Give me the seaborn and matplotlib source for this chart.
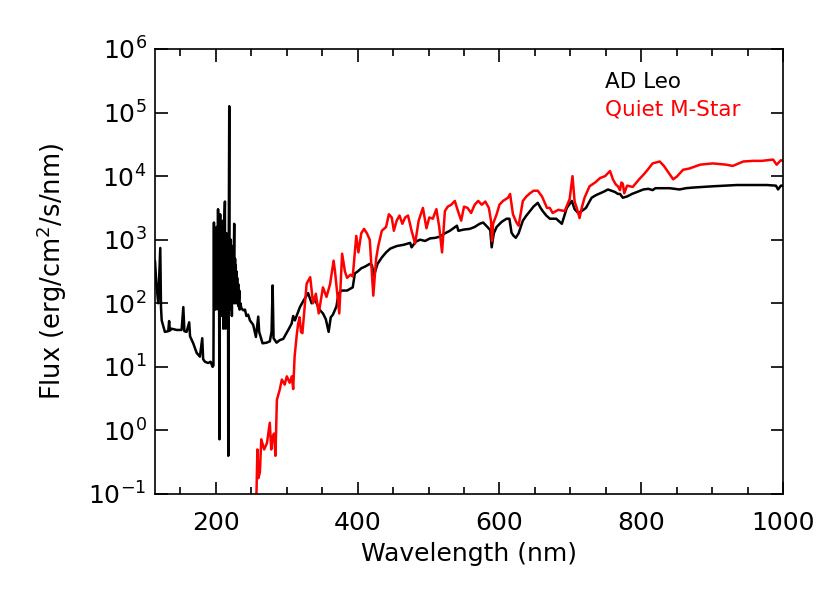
import numpy as np
import pandas as pd
import matplotlib
matplotlib.use('Agg')
import matplotlib.pyplot as plt
import seaborn as sns
from matplotlib.ticker import MultipleLocator, LogLocator, NullLocator

# AD Leo spectrum (wavelength in nm, log10 flux in erg/cm2/s/nm)
adleo_wave = [
    114, 116, 118.6, 120, 121.5, 122.5, 123.5, 128, 132.7, 134, 135, 137.5,
    144.6, 151.6, 154, 155.5, 158.6, 162.3, 163.5, 168, 172.8, 177.4, 180.7,
    182, 184.5, 189, 192.5, 195.3, 196.5,
    197.2, 197.6, 198, 198.5, 199, 199.5, 200, 200.5, 201, 201.5, 202, 202.5,
    203, 203.5, 204, 204.5, 205, 205.5, 206, 206.5, 207, 207.5, 208, 208.5,
    209, 209.5, 210, 210.5, 211, 211.5, 212, 212.7, 213, 213.5, 214, 214.5,
    215, 215.5, 216, 216.5, 217, 217.4, 218, 218.8, 219.3, 219.8, 220.3,
    221, 221.5, 222, 222.5, 223, 223.5, 224, 224.5, 225, 225.8, 226.3, 227,
    227.5, 228, 228.5, 229, 229.5, 230, 230.5, 231.5, 232, 233, 233.5, 234.5,
    236, 238.5, 241, 243, 245.5, 248, 252.6, 256.4, 259.7, 261, 265.8, 271.5,
    276, 278.5, 280, 281.3, 285.6, 290, 295, 302, 306.8, 309, 311.4, 318.5,
    324, 330, 335, 340, 346, 351, 355, 359, 362, 365, 370, 373, 377, 385,
    393, 396, 400, 405, 411, 417, 420, 423, 428, 434, 440, 446, 455, 465,
    474, 476, 482, 488, 495, 502, 510, 516, 523, 530, 535, 540, 542, 550,
    558, 565, 572, 577, 583, 587, 589, 592, 596, 603, 610, 614, 617, 620,
    623, 627, 633, 638, 643, 648, 654, 658, 661, 666, 671, 680, 688, 695,
    702, 706, 711, 716, 722, 730, 736, 742, 748, 753, 758, 763, 767, 770,
    774, 780, 787, 794, 803, 810, 816, 820, 830, 840, 847, 854, 863, 873,
    887, 901, 918, 935, 955, 977, 990, 993, 997, 1000,
]
adleo_logflux = [
    2.67, 2.31, 2.0, 2.4, 2.87, 1.94, 1.73, 1.55, 1.56, 1.72, 1.57, 1.6,
    1.58, 1.58, 1.94, 1.56, 1.55, 1.7, 1.48, 1.37, 1.22, 1.16, 1.45,
    1.12, 1.08, 1.06, 1.08, 1.0, 1.02,
    3.27, 1.95, 3.0, 2.0, 2.9, 1.9, 3.1, 2.1, 3.2, 2.0, 3.0, 2.2,
    3.48, 1.9, 3.1, 2.1, -0.14, 2.4, 3.4, 1.9, 3.1, 2.0, 3.0, 1.8,
    3.2, 2.1, 3.3, 1.6, 2.9, 2.0, 3.3, 3.6, 2.0, 1.6, 3.0, 2.2,
    3.1, 1.9, 2.9, 2.0, 3.0, -0.4, 2.6, 5.1, 2.0, 2.9, 1.9,
    3.0, 2.2, 2.8, 1.8, 2.9, 2.0, 2.8, 2.1, 2.5, 3.25, 2.0, 2.7,
    2.1, 2.6, 2.0, 2.5, 2.1, 2.4, 2.0, 2.3, 1.95, 2.2, 1.9, 2.0,
    1.92, 1.89, 1.9, 1.8, 1.82, 1.73, 1.66, 1.47, 1.79, 1.55, 1.37, 1.38,
    1.4, 1.55, 2.28, 1.45, 1.38, 1.42, 1.44, 1.58, 1.68, 1.8, 1.73, 1.94,
    2.05, 2.16, 2.0, 2.05, 1.9, 1.84, 1.75, 1.55, 1.78, 1.82, 1.95, 2.15, 2.2, 2.2,
    2.25, 2.47, 2.5, 2.55, 2.58, 2.62, 2.6, 2.44, 2.62, 2.72, 2.8, 2.86, 2.9, 2.92,
    2.95, 2.88, 2.97, 3.0, 2.98, 3.02, 3.03, 3.05, 3.1, 3.14, 3.18, 3.22, 3.14, 3.16,
    3.17, 3.2, 3.25, 3.27, 3.2, 3.15, 2.88, 3.1, 3.2, 3.28, 3.33, 3.33, 3.11, 3.06,
    3.03, 3.1, 3.3, 3.38, 3.45, 3.52, 3.58, 3.5, 3.45, 3.38, 3.33, 3.33, 3.25, 3.5,
    3.61, 3.48, 3.42, 3.45, 3.5, 3.66, 3.7, 3.73, 3.76, 3.79, 3.77, 3.75, 3.72, 3.72,
    3.66, 3.68, 3.72, 3.75, 3.79, 3.8, 3.78, 3.81, 3.81, 3.81, 3.8, 3.79, 3.81, 3.82,
    3.83, 3.84, 3.85, 3.86, 3.86, 3.86, 3.85, 3.79, 3.85, 3.85,
]

# Quiet M-star spectrum
quiet_wave = [
    257, 258.5, 260, 262, 264, 268, 272, 276, 278, 280, 282, 284, 286, 290,
    293, 297, 300, 304, 307, 309, 311, 314, 316, 318, 320, 322, 328, 333,
    337, 341, 345, 351, 356, 361, 366, 368, 374, 378, 382, 385, 390, 393,
    398, 401, 405, 409, 413, 417, 422, 426, 429, 434, 440, 444, 448, 451,
    455, 459, 463, 467, 471, 476, 481, 486, 492, 497, 501, 506, 511, 515,
    519, 523, 527, 532, 537, 540, 546, 550, 555, 560, 565, 570, 575, 580,
    585, 588, 589.5, 591, 596, 600, 605, 612, 615, 619, 624, 627, 633, 638,
    643, 648, 654, 660, 667, 671, 675, 683, 692, 699, 703, 706, 709, 713,
    716, 720, 727, 735, 742, 749, 756, 760, 764, 767, 770, 772, 774, 776,
    780, 788, 797, 803, 809, 816, 826, 832, 840, 845, 850, 859, 868, 883,
    901, 910, 920, 929, 944, 958, 970, 986, 991, 997, 1000,
]
quiet_logflux = [
    -1.1, -0.3, -0.75, -0.66, -0.14, -0.3, -0.2, 0.12, -0.3, -0.1, -0.05, -0.4, 0.48, 0.64,
    0.8, 0.72, 0.85, 0.75, 0.85, 0.65, 1.16, 1.5, 1.68, 1.78, 1.55, 1.53, 2.31, 2.41,
    2.0, 2.15, 1.84, 2.25, 2.1, 2.3, 2.67, 2.5, 1.84, 2.78, 2.5, 2.4, 2.45, 2.42,
    3.06, 2.8, 3.1, 3.17, 3.1, 3.0, 2.12, 2.7, 2.9, 3.14, 3.2, 3.4, 3.35, 3.14,
    3.3, 3.38, 3.25, 3.35, 3.38, 3.14, 2.94, 3.3, 3.5, 3.18, 3.35, 3.33, 3.48, 3.2,
    2.8, 3.45, 3.52, 3.55, 3.61, 3.5, 3.3, 3.52, 3.5, 3.42, 3.55, 3.61, 3.55, 3.6,
    3.5, 3.3, 2.98, 3.25, 3.4, 3.55, 3.61, 3.66, 3.72, 3.4, 3.27, 3.22, 3.61, 3.68,
    3.73, 3.77, 3.77, 3.68, 3.5, 3.5, 3.42, 3.47, 3.45, 3.64, 4.0, 3.6, 3.5, 3.34,
    3.5, 3.66, 3.84, 3.9, 3.97, 4.0, 4.08, 3.95, 3.87, 3.84, 3.78, 3.9, 3.88, 3.73,
    3.85, 3.83, 3.95, 4.02, 4.1, 4.2, 4.23, 4.16, 4.03, 3.95, 3.99, 4.1, 4.12, 4.18,
    4.2, 4.19, 4.18, 4.16, 4.23, 4.24, 4.24, 4.26, 4.18, 4.25, 4.24,
]

series_names = ['AD Leo', 'Quiet M-Star']
series_colors = ['black', 'red']

adleo = pd.DataFrame({'wave': adleo_wave, 'flux': np.power(10.0, adleo_logflux)})
quiet = pd.DataFrame({'wave': quiet_wave, 'flux': np.power(10.0, quiet_logflux)})

sns.set_style('ticks')
plt.rcParams['font.family'] = ['DejaVu Sans']
plt.rcParams['text.color'] = 'black'
plt.rcParams['axes.labelcolor'] = 'black'

fig = plt.figure(figsize=(8.3, 5.93), dpi=100)
ax = fig.add_axes([0.1867, 0.167, 0.7567, 0.7504])

sns.lineplot(data=adleo, x='wave', y='flux', ax=ax, color=series_colors[0],
             lw=1.8, sort=False, estimator=None)
sns.lineplot(data=quiet, x='wave', y='flux', ax=ax, color=series_colors[1],
             lw=1.8, sort=False, estimator=None)

ax.set_yscale('log')
ax.set_xlim(114, 1000)
ax.set_ylim(0.1, 1e6)

ax.xaxis.set_major_locator(MultipleLocator(200))
ax.xaxis.set_minor_locator(MultipleLocator(50))
ax.yaxis.set_major_locator(LogLocator(base=10, numticks=10))
ax.yaxis.set_minor_locator(NullLocator())

ax.tick_params(which='both', direction='in', top=True, right=True,
               color='black', width=1.2, labelsize=18, labelcolor='black')
ax.tick_params(which='major', length=9)
ax.tick_params(which='minor', length=5)
ax.tick_params(axis='x', which='major', pad=12)
ax.tick_params(axis='y', which='major', pad=6)
for s in ax.spines.values():
    s.set_color('black')
    s.set_linewidth(1.2)

ax.set_xlabel('Wavelength (nm)', fontsize=18, labelpad=5)
ax.set_ylabel('Flux (erg/cm$^2$/s/nm)', fontsize=18.5, labelpad=14)

ax.text(0.717, 0.926, series_names[0], transform=ax.transAxes,
        color=series_colors[0], fontsize=15.5, va='center', ha='left')
ax.text(0.717, 0.863, series_names[1], transform=ax.transAxes,
        color=series_colors[1], fontsize=15.5, va='center', ha='left')

fig.savefig('out.png', dpi=100, facecolor='white')
